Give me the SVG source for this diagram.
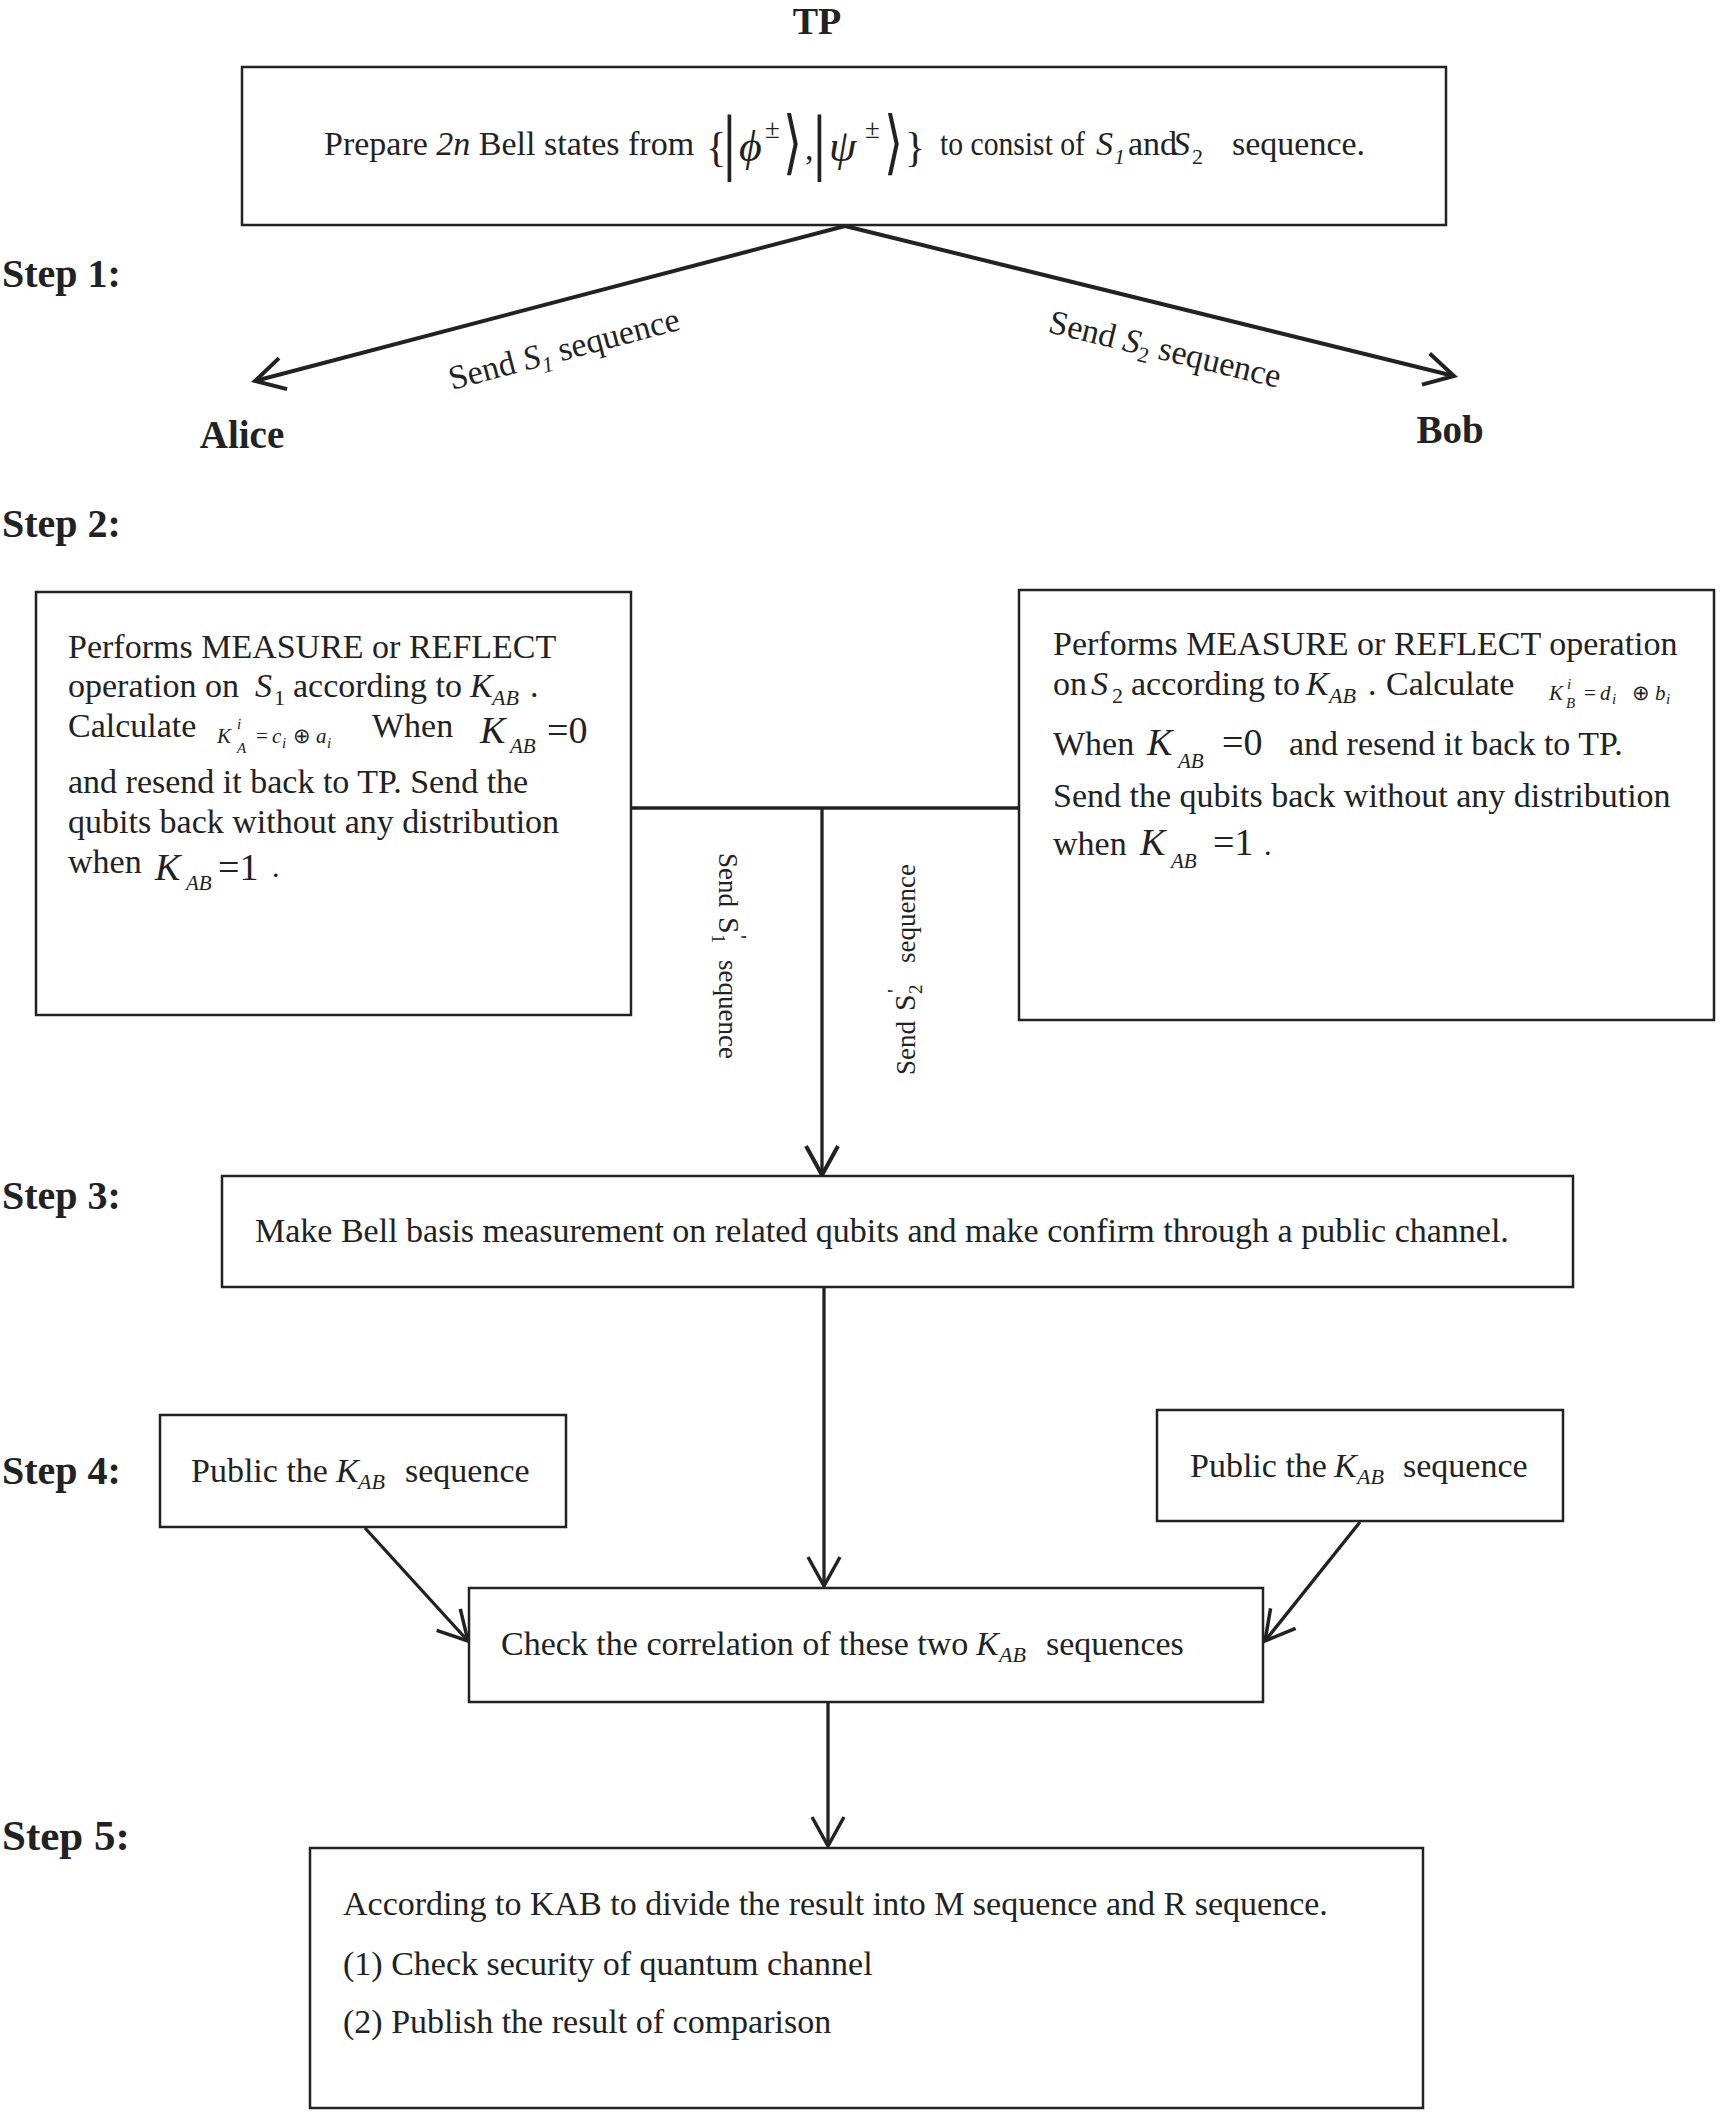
<svg xmlns="http://www.w3.org/2000/svg" width="1721" height="2113" viewBox="0 0 1721 2113" font-size="34">
<style>
.t{font-family:"Liberation Serif","Times New Roman",serif;fill:#222}
.b{font-weight:bold}
.i{font-style:italic}
.m{font-family:"DejaVu Serif","Liberation Serif",serif;fill:#222}
.box{fill:#fff;stroke:#222;stroke-width:2.5}
.ln{fill:none;stroke:#222;stroke-width:4}
.ln3{fill:none;stroke:#222;stroke-width:3.3}
</style>
<defs>
<marker id="arr" markerUnits="userSpaceOnUse" orient="auto" overflow="visible" markerWidth="40" markerHeight="40" refX="0" refY="0">
<path d="M-29,-16 L0,0 L-29,16" fill="none" stroke="#222" stroke-width="4"/>
</marker>
<marker id="arr3" markerUnits="userSpaceOnUse" orient="auto" overflow="visible" markerWidth="40" markerHeight="40" refX="0" refY="0">
<path d="M-29,-16 L0,0 L-29,16" fill="none" stroke="#222" stroke-width="3.5"/>
</marker>
</defs>
<rect width="1721" height="2113" fill="#fff"/>

<g id="labels">
<text class="t b" x="817" y="34" font-size="38" text-anchor="middle">TP</text>
<text class="t b" x="2" y="287" font-size="40">Step 1:</text>
<text class="t b" x="2" y="537" font-size="40">Step 2:</text>
<text class="t b" x="2" y="1209" font-size="40">Step 3:</text>
<text class="t b" x="2" y="1484" font-size="40">Step 4:</text>
<text class="t b" x="2" y="1850" font-size="43">Step 5:</text>
<text class="t b" x="242" y="448" font-size="39" text-anchor="middle">Alice</text>
<text class="t b" x="1450" y="443" font-size="39" text-anchor="middle">Bob</text>
</g>

<g id="connectors">
<line class="ln" x1="845" y1="226" x2="255" y2="381" marker-end="url(#arr)"/>
<line class="ln" x1="845" y1="226" x2="1454" y2="376" marker-end="url(#arr)"/>
<line class="ln3" x1="632" y1="808" x2="1019" y2="808"/>
<line class="ln3" x1="822" y1="808" x2="822" y2="1175" marker-end="url(#arr)"/>
<line class="ln3" x1="824" y1="1288" x2="824" y2="1586" marker-end="url(#arr3)"/>
<line class="ln3" x1="365" y1="1528" x2="468" y2="1641" marker-end="url(#arr3)"/>
<line class="ln3" x1="1360" y1="1522" x2="1265" y2="1641" marker-end="url(#arr3)"/>
<line class="ln3" x1="828" y1="1702" x2="828" y2="1846" marker-end="url(#arr3)"/>
<text class="t" font-size="34" transform="rotate(-14.8 452 390)" x="452" y="390">Send <tspan class="i">S</tspan><tspan class="i" font-size="22" dy="7">1</tspan><tspan dy="-7"> sequence</tspan></text>
<text class="t" font-size="34" transform="rotate(13.6 1047 332)" x="1047" y="332">Send <tspan class="i">S</tspan><tspan font-size="22" dy="7">2</tspan><tspan dy="-7"> sequence</tspan></text>
<g transform="translate(719,853) rotate(90)">
<text class="t" font-size="27" x="0" y="0">Send</text>
<text class="t" font-size="30" x="64" y="0">S</text>
<text class="t" font-size="19" x="81" y="7">1</text>
<text class="t" font-size="22" x="82" y="-13">'</text>
<text class="t" font-size="27" x="107" y="0">sequence</text>
</g>
<g transform="translate(915,1075) rotate(-90)">
<text class="t" font-size="27" x="0" y="0">Send</text>
<text class="t" font-size="30" x="64" y="0">S</text>
<text class="t" font-size="19" x="81" y="7">2</text>
<text class="t" font-size="22" x="82" y="-13">'</text>
<text class="t" font-size="27" x="112" y="0">sequence</text>
</g>
</g>

<g id="tp-box">
<rect class="box" x="242" y="67" width="1204" height="158"/>
<text class="t" x="324" y="155">Prepare <tspan class="i">2n</tspan> Bell states from</text>
<text class="t" x="706" y="161" font-size="42">{</text>
<text class="t" x="722" y="166" font-size="74">|</text>
<text class="t i" x="739" y="161" font-size="44">ϕ</text>
<text class="t" x="765" y="138" font-size="27">±</text>
<text class="m" x="783" y="166" font-size="70" transform="translate(783 0) scale(0.7 1) translate(-783 0)">⟩</text>
<text class="t" x="805" y="160">,</text>
<text class="t" x="812" y="166" font-size="74">|</text>
<text class="t i" x="829" y="161" font-size="44">ψ</text>
<text class="t" x="865" y="138" font-size="27">±</text>
<text class="m" x="884" y="166" font-size="70" transform="translate(884 0) scale(0.7 1) translate(-884 0)">⟩</text>
<text class="t" x="905" y="161" font-size="42">}</text>
<text class="t" x="940" y="155" textLength="145" lengthAdjust="spacingAndGlyphs">to consist of</text>
<text class="t i" x="1096" y="155">S</text>
<text class="t i" x="1114" y="164" font-size="22">1</text>
<text class="t" x="1128" y="155">and</text>
<text class="t i" x="1173" y="155">S</text>
<text class="t" x="1192" y="164" font-size="22">2</text>
<text class="t" x="1232" y="155">sequence.</text>
</g>

<g id="alice-box">
<rect class="box" x="36" y="592" width="595" height="423"/>
<text class="t" x="68" y="658">Performs MEASURE or REFLECT</text>
<text class="t" x="68" y="697">operation on</text>
<text class="t i" x="255" y="697">S</text>
<text class="t" x="274" y="705" font-size="22">1</text>
<text class="t" x="293" y="697">according to</text>
<text class="t i" x="470" y="697">K</text>
<text class="t i" x="492" y="705" font-size="22">AB</text>
<text class="t" x="530" y="697">.</text>
<text class="t" x="68" y="737">Calculate</text>
<text class="t i" x="217" y="743" font-size="21">K</text>
<text class="t i" x="237" y="729" font-size="15">i</text>
<text class="t i" x="237" y="753" font-size="15">A</text>
<text class="t" x="256" y="743" font-size="21">=</text>
<text class="t i" x="272" y="743" font-size="21">c</text>
<text class="t i" x="282" y="748" font-size="15">i</text>
<text class="t" x="293" y="743" font-size="21">⊕</text>
<text class="t i" x="316" y="743" font-size="21">a</text>
<text class="t i" x="327" y="748" font-size="15">i</text>
<text class="t" x="372" y="737">When</text>
<text class="t i" x="480" y="743" font-size="38">K</text>
<text class="t i" x="510" y="753" font-size="21">AB</text>
<text class="t" x="547" y="743" font-size="38">=0</text>
<text class="t" x="68" y="793">and resend it back to TP. Send the</text>
<text class="t" x="68" y="833">qubits back without any distribution</text>
<text class="t" x="68" y="873">when</text>
<text class="t i" x="155" y="880" font-size="38">K</text>
<text class="t i" x="186" y="890" font-size="21">AB</text>
<text class="t" x="218" y="880" font-size="38">=1</text>
<text class="t" x="272" y="877" font-size="30">.</text>
</g>

<g id="bob-box">
<rect class="box" x="1019" y="590" width="695" height="430"/>
<text class="t" x="1053" y="655">Performs MEASURE or REFLECT operation</text>
<text class="t" x="1053" y="695">on</text>
<text class="t i" x="1091" y="695">S</text>
<text class="t" x="1112" y="703" font-size="22">2</text>
<text class="t" x="1131" y="695">according to</text>
<text class="t i" x="1306" y="695">K</text>
<text class="t i" x="1329" y="703" font-size="22">AB</text>
<text class="t" x="1368" y="695">.</text>
<text class="t" x="1386" y="695">Calculate</text>
<text class="t i" x="1549" y="700" font-size="21">K</text>
<text class="t i" x="1567" y="689" font-size="15">i</text>
<text class="t i" x="1566" y="708" font-size="15">B</text>
<text class="t" x="1584" y="700" font-size="21">=</text>
<text class="t i" x="1600" y="700" font-size="21">d</text>
<text class="t i" x="1612" y="704" font-size="15">i</text>
<text class="t" x="1632" y="700" font-size="21">⊕</text>
<text class="t i" x="1655" y="700" font-size="21">b</text>
<text class="t i" x="1666" y="704" font-size="15">i</text>
<text class="t" x="1053" y="755">When</text>
<text class="t i" x="1147" y="755" font-size="38">K</text>
<text class="t i" x="1178" y="768" font-size="21">AB</text>
<text class="t" x="1222" y="755" font-size="38">=0</text>
<text class="t" x="1289" y="755">and resend it back to TP.</text>
<text class="t" x="1053" y="807">Send the qubits back without any distribution</text>
<text class="t" x="1053" y="855">when</text>
<text class="t i" x="1140" y="855" font-size="38">K</text>
<text class="t i" x="1171" y="868" font-size="21">AB</text>
<text class="t" x="1213" y="855" font-size="38">=1</text>
<text class="t" x="1264" y="855" font-size="30">.</text>
</g>

<g id="step3-box">
<rect class="box" x="222" y="1176" width="1351" height="111"/>
<text class="t" x="255" y="1242">Make Bell basis measurement on related qubits and make confirm through a public channel.</text>
</g>

<g id="public-left">
<rect class="box" x="160" y="1415" width="406" height="112"/>
<text class="t" x="191" y="1482">Public the</text>
<text class="t i" x="336" y="1482">K</text>
<text class="t i" x="358" y="1489" font-size="22">AB</text>
<text class="t" x="405" y="1482">sequence</text>
</g>

<g id="public-right">
<rect class="box" x="1157" y="1410" width="406" height="111"/>
<text class="t" x="1190" y="1477">Public the</text>
<text class="t i" x="1334" y="1477">K</text>
<text class="t i" x="1357" y="1484" font-size="22">AB</text>
<text class="t" x="1403" y="1477">sequence</text>
</g>

<g id="check-box">
<rect class="box" x="469" y="1588" width="794" height="114"/>
<text class="t" x="501" y="1655">Check the correlation of these two</text>
<text class="t i" x="976" y="1655">K</text>
<text class="t i" x="999" y="1662" font-size="22">AB</text>
<text class="t" x="1046" y="1655">sequences</text>
</g>

<g id="step5-box">
<rect class="box" x="310" y="1848" width="1113" height="260"/>
<text class="t" x="343" y="1915">According to KAB to divide the result into M sequence and R sequence.</text>
<text class="t" x="343" y="1975">(1) Check security of quantum channel</text>
<text class="t" x="343" y="2033">(2) Publish the result of comparison</text>
</g>
</svg>
